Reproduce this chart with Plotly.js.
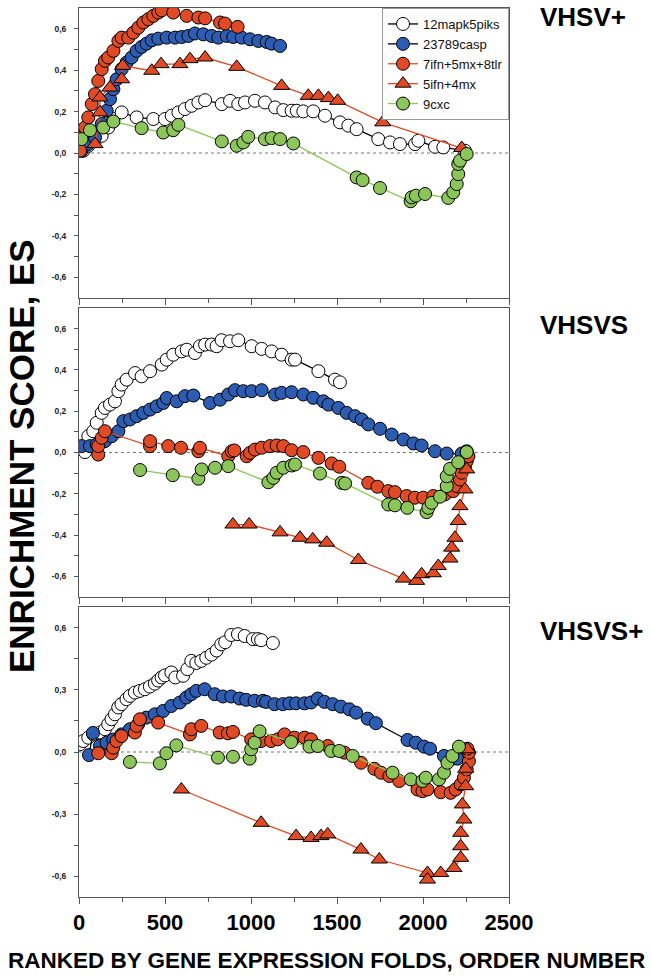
<!DOCTYPE html>
<html>
<head>
<meta charset="utf-8">
<script src="https://cdn.plot.ly/plotly-3.0.1.min.js"></script>
<style>html,body{margin:0;padding:0;background:#fff;}#chart{width:651px;height:977px;}</style>
</head>
<body>
<div id="chart"></div>
<script>
// ---------- DATA ----------
const seriesNames = ["12mapk5piks", "23789casp", "7ifn+5mx+8tlr", "5ifn+4mx", "9cxc"];
const panelLabels = ["VHSV+", "VHSVS", "VHSVS+"];
const xTickVals = [0, 500, 1000, 1500, 2000, 2500];
const xTickText = ["0", "500", "1000", "1500", "2000", "2500"];
const yTickVals12 = [0.6, 0.4, 0.2, 0, -0.2, -0.4, -0.6];
const yTickText12 = ["0,6", "0,4", "0,2", "0,0", "-0,2", "-0,4", "-0,6"];
const yTickVals3 = [0.6, 0.3, 0, -0.3, -0.6];
const yTickText3 = ["0,6", "0,3", "0,0", "-0,3", "-0,6"];

// Panel 1 (VHSV+)
const p1_mapk_x = [25, 54, 93, 132, 170, 200, 248, 335, 432, 500, 539, 578, 616, 655, 694, 733, 830, 878, 926, 965, 1023, 1081, 1140, 1188, 1236, 1266, 1304, 1362, 1430, 1517, 1566, 1614, 1740, 1808, 1866, 1954, 1973, 2070, 2118, 2244];
const p1_mapk_y = [0.011, 0.035, 0.059, 0.083, 0.123, 0.164, 0.196, 0.172, 0.164, 0.164, 0.18, 0.196, 0.212, 0.228, 0.244, 0.255, 0.236, 0.252, 0.236, 0.244, 0.252, 0.244, 0.22, 0.207, 0.204, 0.204, 0.201, 0.201, 0.18, 0.148, 0.132, 0.115, 0.067, 0.051, 0.043, 0.043, 0.059, 0.03, 0.027, 0.011];
const p1_casp_x = [15, 54, 93, 132, 161, 180, 200, 219, 248, 277, 306, 335, 364, 393, 423, 461, 510, 558, 597, 636, 674, 723, 771, 810, 859, 897, 946, 994, 1043, 1091, 1120, 1169];
const p1_casp_y = [0.011, 0.043, 0.075, 0.14, 0.204, 0.26, 0.308, 0.356, 0.405, 0.437, 0.461, 0.493, 0.512, 0.528, 0.544, 0.552, 0.557, 0.557, 0.56, 0.565, 0.577, 0.573, 0.565, 0.557, 0.565, 0.56, 0.557, 0.549, 0.541, 0.536, 0.528, 0.517];
const p1_ifn8_x = [6, 15, 35, 54, 74, 93, 112, 132, 151, 170, 200, 229, 248, 287, 316, 345, 374, 403, 432, 461, 481, 548, 626, 694, 733, 820, 849, 922];
const p1_ifn8_y = [0.011, 0.075, 0.123, 0.172, 0.236, 0.284, 0.348, 0.405, 0.445, 0.461, 0.493, 0.541, 0.557, 0.557, 0.581, 0.605, 0.63, 0.646, 0.662, 0.678, 0.689, 0.678, 0.662, 0.654, 0.65, 0.63, 0.625, 0.609];
const p1_ifn4_x = [93, 122, 122, 180, 248, 254, 423, 477, 587, 645, 733, 917, 1178, 1333, 1392, 1450, 1504, 1766, 2225];
const p1_ifn4_y = [0.043, 0.196, 0.268, 0.316, 0.356, 0.421, 0.397, 0.429, 0.429, 0.453, 0.461, 0.416, 0.324, 0.276, 0.276, 0.265, 0.252, 0.148, 0.024];
const p1_cxc_x = [15, 64, 141, 200, 364, 490, 548, 578, 830, 917, 955, 984, 1081, 1120, 1169, 1246, 1614, 1649, 1750, 1928, 1934, 1959, 2012, 2147, 2176, 2196, 2205, 2205, 2215, 2254];
const p1_cxc_y = [0.067, 0.11, 0.123, 0.152, 0.12, 0.099, 0.11, 0.136, 0.056, 0.035, 0.051, 0.078, 0.067, 0.072, 0.067, 0.046, -0.118, -0.131, -0.169, -0.233, -0.214, -0.206, -0.198, -0.217, -0.19, -0.15, -0.102, -0.053, -0.037, -0.005];

// Panel 2 (VHSVS)
const p2_mapk_x = [35, 54, 83, 103, 132, 151, 180, 209, 229, 248, 277, 326, 364, 413, 481, 510, 548, 597, 626, 674, 703, 733, 771, 800, 829, 878, 926, 1004, 1062, 1120, 1178, 1236, 1256, 1392, 1488, 1517];
const p2_mapk_y = [0.002, 0.079, 0.103, 0.144, 0.192, 0.216, 0.232, 0.248, 0.297, 0.329, 0.353, 0.385, 0.369, 0.394, 0.426, 0.45, 0.474, 0.49, 0.498, 0.482, 0.515, 0.523, 0.523, 0.515, 0.544, 0.539, 0.544, 0.515, 0.502, 0.49, 0.474, 0.45, 0.45, 0.394, 0.353, 0.34];
const p2_casp_x = [15, 64, 103, 151, 190, 229, 258, 297, 335, 374, 413, 452, 490, 510, 568, 616, 665, 762, 820, 868, 907, 955, 1004, 1062, 1140, 1178, 1236, 1304, 1362, 1421, 1450, 1508, 1556, 1605, 1643, 1682, 1750, 1818, 1886, 1944, 1992, 2070, 2138, 2225, 2254];
const p2_casp_y = [0.031, 0.031, 0.039, 0.055, 0.079, 0.103, 0.152, 0.16, 0.176, 0.192, 0.208, 0.224, 0.24, 0.264, 0.248, 0.273, 0.276, 0.24, 0.256, 0.281, 0.302, 0.297, 0.297, 0.302, 0.281, 0.289, 0.292, 0.281, 0.265, 0.248, 0.232, 0.216, 0.192, 0.176, 0.16, 0.136, 0.115, 0.087, 0.063, 0.044, 0.034, 0.006, -0.005, -0.005, 0.006];
const p2_ifn8_x = [112, 112, 132, 151, 413, 413, 519, 593, 694, 703, 868, 888, 903, 975, 994, 1023, 1062, 1110, 1149, 1188, 1236, 1304, 1392, 1469, 1513, 1682, 1735, 1798, 1837, 1905, 1953, 2002, 2060, 2128, 2176, 2196, 2215, 2225, 2244, 2254, 2264];
const p2_ifn8_y = [-0.01, 0.031, 0.071, 0.103, 0.031, 0.055, 0.031, 0.023, 0.006, 0.023, -0.018, 0.006, 0.01, -0.018, -0.002, 0.014, 0.023, 0.031, 0.034, 0.031, 0.011, 0.002, -0.026, -0.053, -0.069, -0.147, -0.166, -0.187, -0.192, -0.211, -0.219, -0.219, -0.211, -0.203, -0.187, -0.163, -0.131, -0.098, -0.066, -0.042, -0.018];
const p2_ifn4_x = [895, 989, 1169, 1285, 1359, 1440, 1624, 1886, 1963, 1992, 2060, 2089, 2157, 2167, 2186, 2205, 2215, 2244, 2254];
const p2_ifn4_y = [-0.349, -0.349, -0.387, -0.413, -0.421, -0.437, -0.521, -0.611, -0.622, -0.59, -0.585, -0.55, -0.514, -0.461, -0.413, -0.332, -0.26, -0.179, -0.082];
const p2_cxc_x = [355, 545, 694, 713, 791, 868, 1101, 1130, 1149, 1188, 1236, 1256, 1401, 1527, 1547, 1798, 1837, 1909, 2021, 2031, 2050, 2099, 2138, 2138, 2157, 2205, 2254];
const p2_cxc_y = [-0.085, -0.11, -0.127, -0.082, -0.074, -0.066, -0.144, -0.123, -0.098, -0.074, -0.063, -0.058, -0.102, -0.147, -0.15, -0.252, -0.256, -0.268, -0.289, -0.268, -0.244, -0.214, -0.163, -0.115, -0.079, -0.047, 0.002];

// Panel 3 (VHSVS+)
const p3_mapk_x = [6, 25, 54, 83, 122, 151, 170, 189, 209, 228, 247, 276, 296, 325, 354, 383, 412, 441, 460, 480, 500, 537, 560, 605, 630, 653, 682, 711, 740, 770, 800, 827, 850, 885, 924, 963, 1011, 1040, 1059, 1127];
const p3_mapk_y = [0.037, 0.053, 0.069, 0.085, 0.094, 0.11, 0.134, 0.158, 0.182, 0.215, 0.231, 0.255, 0.271, 0.287, 0.295, 0.303, 0.316, 0.33, 0.345, 0.36, 0.37, 0.384, 0.36, 0.368, 0.40, 0.44, 0.43, 0.44, 0.455, 0.47, 0.49, 0.52, 0.53, 0.565, 0.569, 0.56, 0.545, 0.545, 0.54, 0.526];
const p3_casp_x = [58, 81, 122, 160, 199, 247, 296, 344, 392, 441, 489, 537, 586, 624, 653, 682, 731, 789, 837, 885, 934, 972, 1021, 1069, 1088, 1137, 1185, 1224, 1262, 1311, 1349, 1388, 1427, 1475, 1523, 1572, 1611, 1678, 1726, 1910, 1958, 2006, 2041, 2122, 2171, 2200];
const p3_casp_y = [-0.015, 0.092, 0.03, 0.045, 0.06, 0.085, 0.11, 0.134, 0.166, 0.182, 0.198, 0.222, 0.239, 0.263, 0.279, 0.295, 0.303, 0.279, 0.268, 0.268, 0.258, 0.252, 0.247, 0.247, 0.242, 0.231, 0.231, 0.235, 0.235, 0.235, 0.239, 0.258, 0.242, 0.231, 0.219, 0.206, 0.19, 0.161, 0.139, 0.058, 0.045, 0.026, 0.016, -0.019, -0.032, -0.032];
const p3_ifn8_x = [112, 190, 199, 218, 247, 325, 335, 354, 460, 645, 653, 711, 818, 866, 895, 1001, 1059, 1117, 1156, 1195, 1253, 1311, 1349, 1446, 1543, 1640, 1717, 1756, 1804, 1862, 1968, 1997, 2026, 2103, 2161, 2190, 2219, 2238, 2254, 2267, 2267, 2258];
const p3_ifn8_y = [-0.006, -0.006, 0.021, 0.053, 0.077, 0.094, 0.126, 0.158, 0.142, 0.085, 0.11, 0.126, 0.094, 0.09, 0.097, 0.061, 0.053, 0.053, 0.061, 0.085, 0.069, 0.069, 0.061, 0.029, -0.003, -0.052, -0.081, -0.1, -0.116, -0.14, -0.181, -0.189, -0.181, -0.194, -0.197, -0.181, -0.156, -0.124, -0.084, -0.044, -0.003, 0.016];
const p3_ifn4_x = [595, 1059, 1262, 1349, 1407, 1446, 1639, 1746, 2026, 2026, 2103, 2180, 2219, 2219, 2219, 2238, 2229, 2248, 2248, 2258];
const p3_ifn4_y = [-0.181, -0.342, -0.406, -0.415, -0.406, -0.398, -0.471, -0.519, -0.584, -0.616, -0.584, -0.56, -0.511, -0.455, -0.39, -0.326, -0.253, -0.165, -0.081, 0.013];
const p3_cxc_x = [296, 470, 508, 566, 808, 895, 992, 1001, 1021, 1050, 1233, 1340, 1388, 1466, 1513, 1591, 1823, 1929, 1997, 2016, 2093, 2122, 2142, 2171, 2209];
const p3_cxc_y = [-0.048, -0.055, -0.006, 0.032, -0.027, -0.023, -0.032, 0.013, 0.045, 0.1, 0.048, 0.026, 0.029, 0.005, 0.005, -0.019, -0.1, -0.132, -0.14, -0.124, -0.132, -0.1, -0.052, -0.019, 0.026];

// ---------- STYLE ----------
const FONT = '"Liberation Sans", Arial, Helvetica, sans-serif';
const RED = '#E04B26', BLUE = '#2D5DB2', GREEN = '#8CC65A';
const styles = [
  {fill: '#ffffff', line: '#000000', symbol: 'circle', size: 13},
  {fill: BLUE, line: '#000000', symbol: 'circle', size: 13},
  {fill: RED, line: RED, symbol: 'circle', size: 13},
  {fill: RED, line: RED, symbol: 'triangle-up', size: 14},
  {fill: GREEN, line: GREEN, symbol: 'circle', size: 13}
];
const panels = [
  [[p1_mapk_x, p1_mapk_y], [p1_casp_x, p1_casp_y], [p1_ifn8_x, p1_ifn8_y], [p1_ifn4_x, p1_ifn4_y], [p1_cxc_x, p1_cxc_y]],
  [[p2_mapk_x, p2_mapk_y], [p2_casp_x, p2_casp_y], [p2_ifn8_x, p2_ifn8_y], [p2_ifn4_x, p2_ifn4_y], [p2_cxc_x, p2_cxc_y]],
  [[p3_mapk_x, p3_mapk_y], [p3_casp_x, p3_casp_y], [p3_ifn8_x, p3_ifn8_y], [p3_ifn4_x, p3_ifn4_y], [p3_cxc_x, p3_cxc_y]]
];

const traces = [];
panels.forEach((panel, pi) => {
  const ax = pi === 0 ? '' : String(pi + 1);
  panel.forEach((s, si) => {
    const st = styles[si];
    traces.push({
      type: 'scatter', mode: 'lines+markers',
      x: s[0], y: s[1], xaxis: 'x' + ax, yaxis: 'y' + ax,
      name: seriesNames[si], legendgroup: seriesNames[si], showlegend: pi === 0,
      line: {color: st.line, width: 1.3},
      marker: {symbol: st.symbol, size: st.size, color: st.fill, line: {color: '#000', width: 1}}
    });
  });
});

const domains = [[0.6738, 1], [0.3375, 0.6625], [0, 0.3262]];
const layout = {
  width: 651, height: 977,
  margin: {l: 79, r: 142, t: 8, b: 80},
  paper_bgcolor: '#fff', plot_bgcolor: '#fff',
  font: {family: FONT, color: '#000'},
  showlegend: true,
  legend: {
    x: 1, xanchor: 'right', y: 1, yanchor: 'top',
    bgcolor: '#fff', bordercolor: '#999', borderwidth: 1,
    font: {family: FONT, size: 13, color: '#111'},
    tracegroupgap: 0, itemsizing: 'trace'
  },
  shapes: [],
  annotations: []
};
for (let i = 0; i < 3; i++) {
  const ax = i === 0 ? '' : String(i + 1);
  const isBottom = i === 2;
  layout['xaxis' + ax] = {
    domain: [0, 1], anchor: 'y' + ax, range: [0, 2500],
    matches: i === 0 ? undefined : 'x',
    showgrid: false, zeroline: false,
    showline: true, linecolor: '#555', linewidth: 1, mirror: true,
    ticks: 'outside', ticklen: 6, tickcolor: '#555', tickwidth: 1,
    tickvals: xTickVals, ticktext: xTickText, showticklabels: isBottom,
    tickfont: {family: FONT, size: 22, color: '#000', weight: 'bold'},
    minor: {tickvals: [250, 750, 1250, 1750, 2250], ticks: 'outside', ticklen: 4, tickcolor: '#555', showgrid: false}
  };
  layout['yaxis' + ax] = {
    domain: domains[i], anchor: 'x' + ax, range: [-0.7, 0.7],
    showgrid: false, zeroline: false,
    showline: true, linecolor: '#555', linewidth: 1, mirror: true,
    ticks: 'outside', ticklen: 4, tickcolor: '#555', tickwidth: 1,
    tickvals: isBottom ? yTickVals3 : yTickVals12,
    ticktext: isBottom ? yTickText3 : yTickText12,
    tickfont: {family: FONT, size: 8.5, color: '#222', weight: 'bold'},
    ticklabelstandoff: 6,
    minor: isBottom
      ? {tickvals: [0.45, 0.15, -0.15, -0.45], ticks: 'outside', ticklen: 4, tickcolor: '#555', showgrid: false}
      : {tickvals: [0.5, 0.3, 0.1, -0.1, -0.3, -0.5], ticks: 'outside', ticklen: 4, tickcolor: '#555', showgrid: false}
  };
  layout.shapes.push({
    type: 'line', xref: 'paper', x0: 0, x1: 1, yref: 'y' + ax, y0: 0, y1: 0,
    line: {color: '#777', width: 1, dash: 'dot'}, layer: 'below'
  });
}
const labelY = [0.9899, 0.6434, 0.2992];
panelLabels.forEach((t, i) => {
  layout.annotations.push({
    text: t, xref: 'paper', yref: 'paper', x: 1.067, y: labelY[i],
    xanchor: 'left', yanchor: 'middle', showarrow: false,
    font: {family: FONT, size: 26, color: '#000', weight: 'bold'}
  });
});
layout.annotations.push({
  text: 'ENRICHMENT SCORE, ES', xref: 'paper', yref: 'paper',
  x: -0.135, y: 0.496, xanchor: 'center', yanchor: 'middle', textangle: -90,
  showarrow: false, font: {family: FONT, size: 35, color: '#000', weight: 'bold'}
});
layout.annotations.push({
  text: 'RANKED BY GENE EXPRESSION FOLDS, ORDER NUMBER', xref: 'paper', yref: 'paper',
  x: 0.5756, y: -0.0709, xanchor: 'center', yanchor: 'middle',
  showarrow: false, font: {family: FONT, size: 22.5, color: '#000', weight: 'bold'}
});

Plotly.newPlot('chart', traces, layout, {displayModeBar: false, staticPlot: true});
</script>
</body>
</html>
